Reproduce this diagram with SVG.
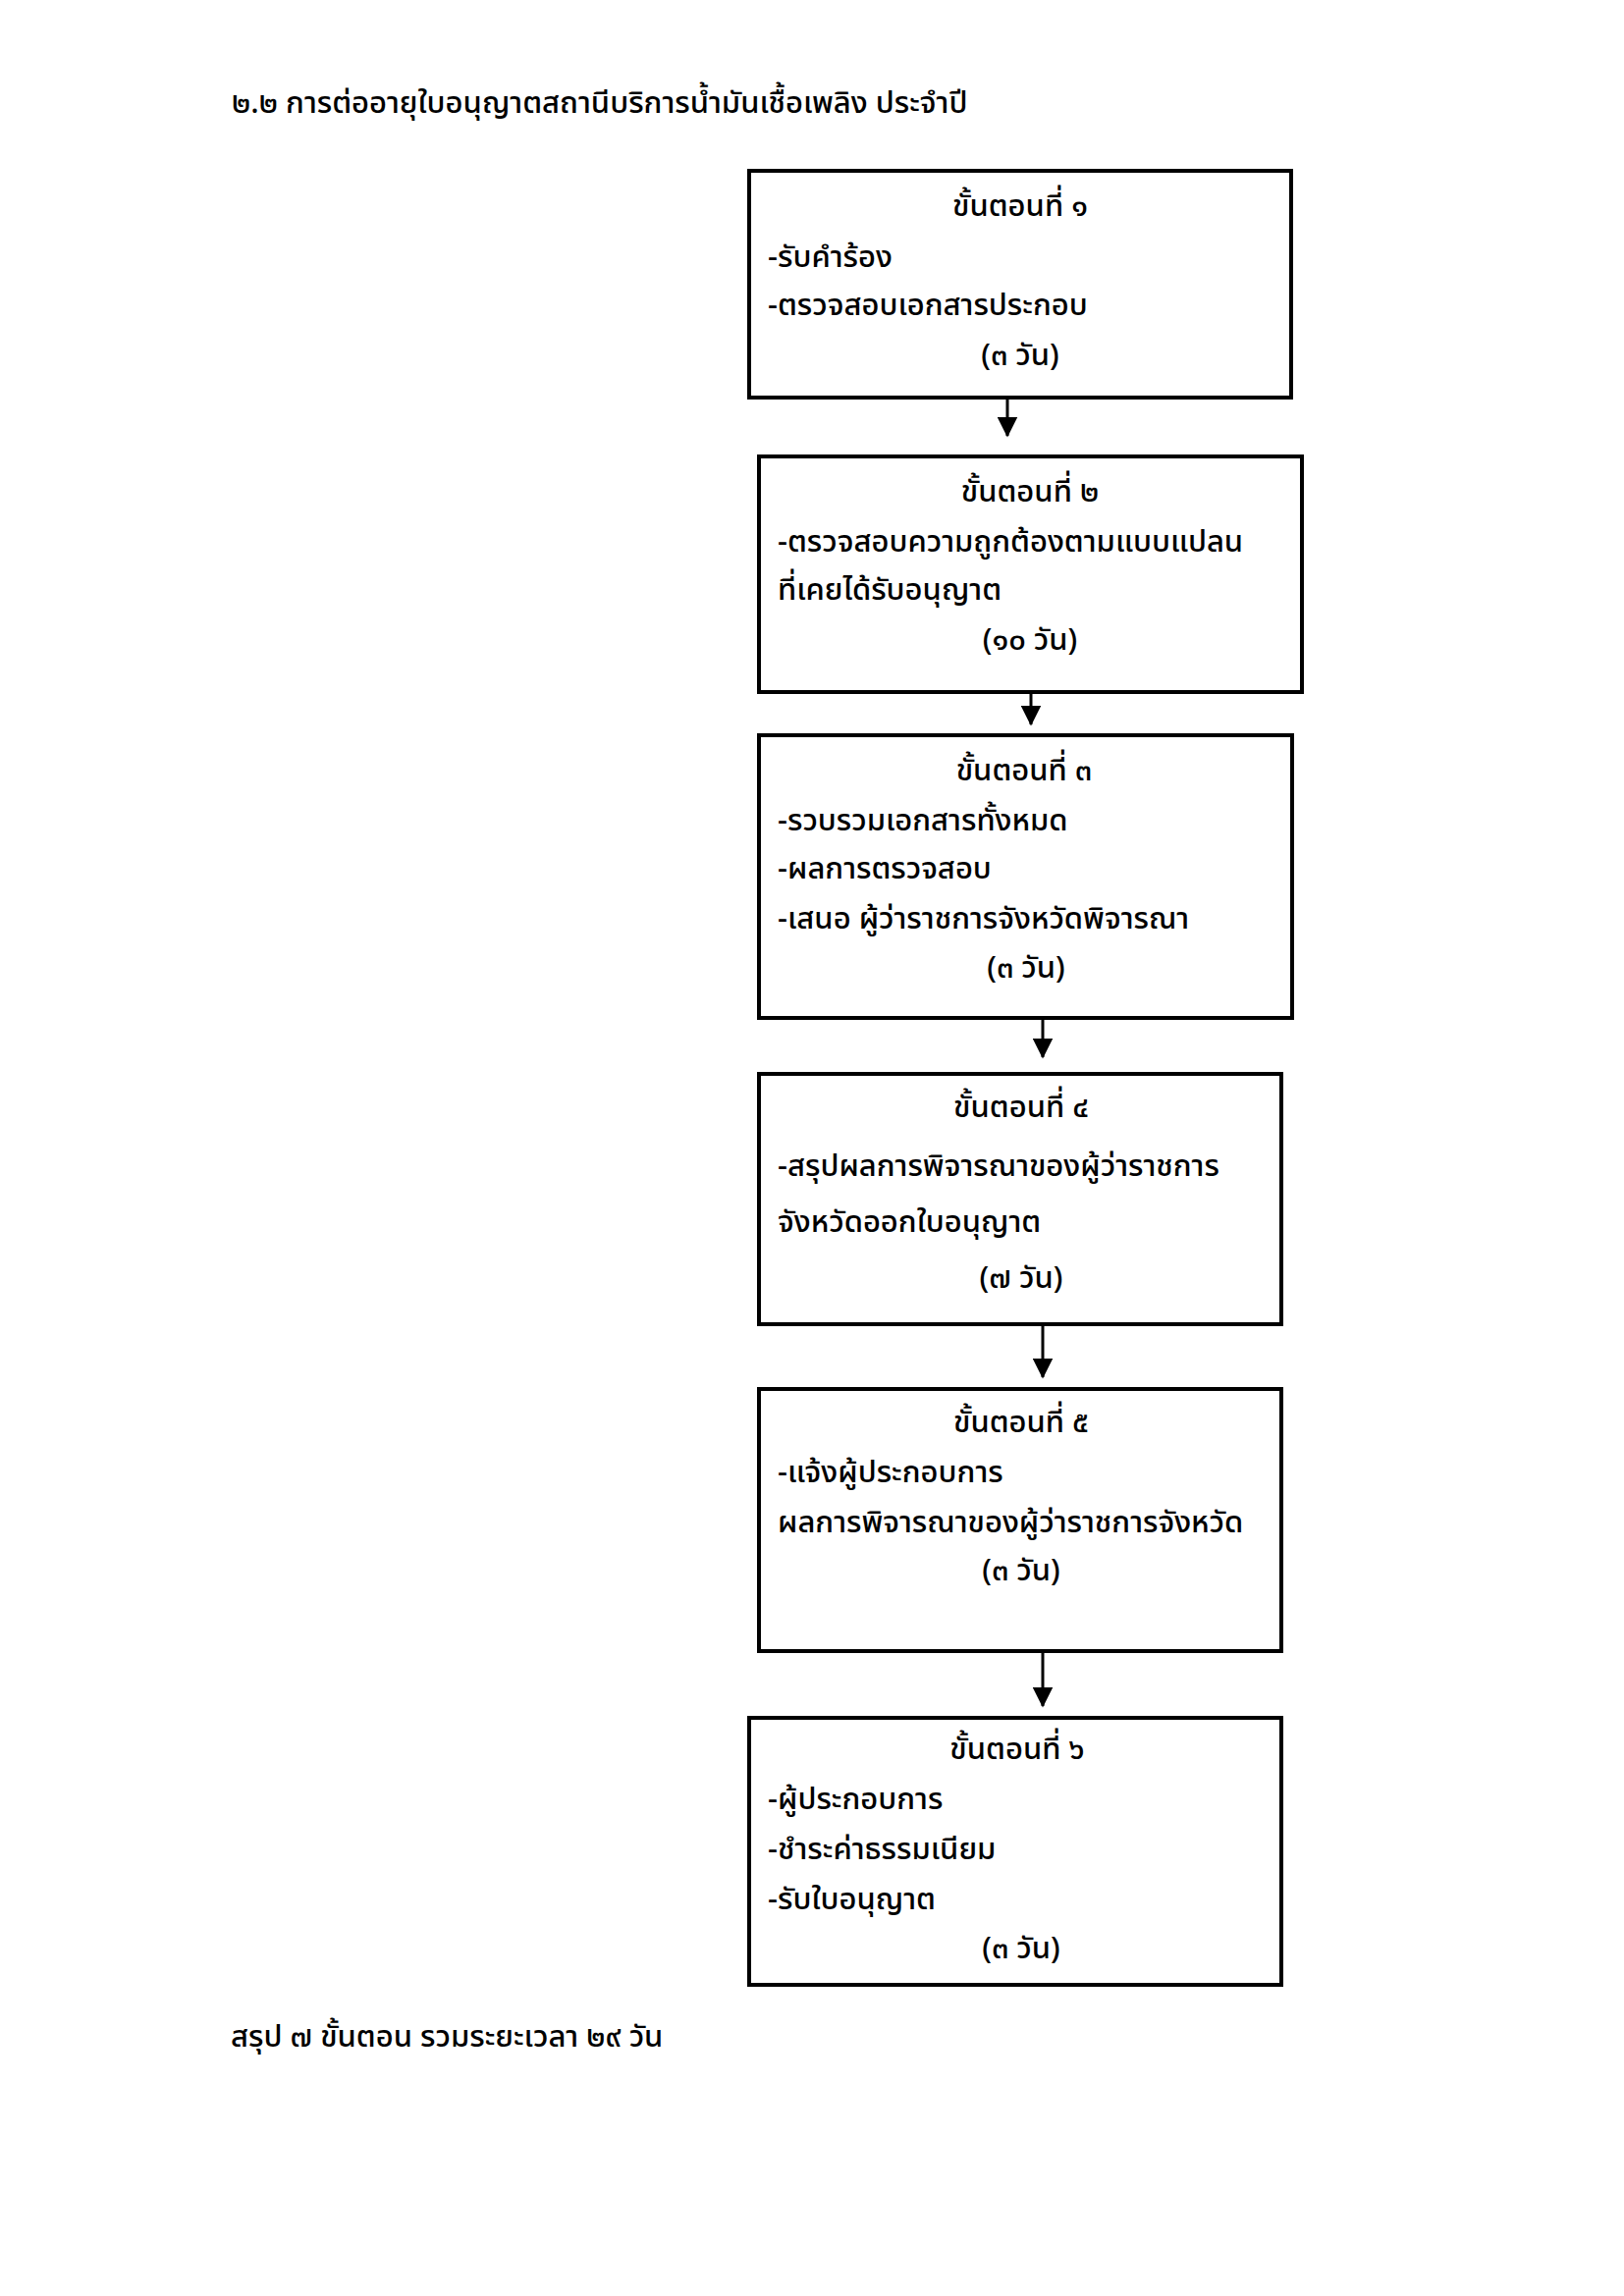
<svg xmlns="http://www.w3.org/2000/svg" width="1654" height="2339" viewBox="0 0 1654 2339">
<defs>
<style>
.bg{fill:#ffffff}
.box{fill:#ffffff;stroke:#000000;stroke-width:4}
.t{font-family:"Noto Sans Thai","Noto Sans","DejaVu Sans",sans-serif;font-size:31px;font-weight:500;fill:#000000}
.c{text-anchor:middle}
.edge{stroke:#000000;stroke-width:3;fill:none;marker-end:url(#ah)}
</style>
<marker id="ah" markerWidth="7" markerHeight="7" refX="6.5" refY="3.5" orient="auto" markerUnits="strokeWidth">
<path d="M0,0 L7,3.5 L0,7 Z" fill="#000000"/>
</marker>
</defs>
<rect class="bg" x="0" y="0" width="1654" height="2339"/>
<g id="title">
<text class="t" x="236" y="115">๒.๒ การต่ออายุใบอนุญาตสถานีบริการน้ำมันเชื้อเพลิง ประจำปี</text>
</g>
<g id="connectors">
<line class="edge" x1="1026" y1="407" x2="1026" y2="444"/>
<line class="edge" x1="1050" y1="707" x2="1050" y2="738"/>
<line class="edge" x1="1062" y1="1039" x2="1062" y2="1077"/>
<line class="edge" x1="1062" y1="1351" x2="1062" y2="1403"/>
<line class="edge" x1="1062" y1="1684" x2="1062" y2="1738"/>
</g>
<g id="step1">
<rect class="box" x="763" y="174" width="552" height="231"/>
<text class="t c" x="1039" y="220">ขั้นตอนที่ ๑</text>
<text class="t" x="782" y="272">-รับคำร้อง</text>
<text class="t" x="782" y="321">-ตรวจสอบเอกสารประกอบ</text>
<text class="t c" x="1039" y="372">(๓ วัน)</text>
</g>
<g id="step2">
<rect class="box" x="773" y="465" width="553" height="240"/>
<text class="t c" x="1049" y="511">ขั้นตอนที่ ๒</text>
<text class="t" x="792" y="562">-ตรวจสอบความถูกต้องตามแบบแปลน</text>
<text class="t" x="792" y="611">ที่เคยได้รับอนุญาต</text>
<text class="t c" x="1049" y="662">(๑๐ วัน)</text>
</g>
<g id="step3">
<rect class="box" x="773" y="749" width="543" height="288"/>
<text class="t c" x="1043" y="795">ขั้นตอนที่ ๓</text>
<text class="t" x="792" y="846">-รวบรวมเอกสารทั้งหมด</text>
<text class="t" x="792" y="895">-ผลการตรวจสอบ</text>
<text class="t" x="792" y="946">-เสนอ ผู้ว่าราชการจังหวัดพิจารณา</text>
<text class="t c" x="1045" y="996">(๓ วัน)</text>
</g>
<g id="step4">
<rect class="box" x="773" y="1094" width="532" height="255"/>
<text class="t c" x="1040" y="1138">ขั้นตอนที่ ๔</text>
<text class="t" x="792" y="1198">-สรุปผลการพิจารณาของผู้ว่าราชการ</text>
<text class="t" x="792" y="1255">จังหวัดออกใบอนุญาต</text>
<text class="t c" x="1040" y="1312">(๗ วัน)</text>
</g>
<g id="step5">
<rect class="box" x="773" y="1415" width="532" height="267"/>
<text class="t c" x="1040" y="1459">ขั้นตอนที่ ๕</text>
<text class="t" x="792" y="1510">-แจ้งผู้ประกอบการ</text>
<text class="t" x="792" y="1561">ผลการพิจารณาของผู้ว่าราชการจังหวัด</text>
<text class="t c" x="1040" y="1610">(๓ วัน)</text>
</g>
<g id="step6">
<rect class="box" x="763" y="1750" width="542" height="272"/>
<text class="t c" x="1036" y="1792">ขั้นตอนที่ ๖</text>
<text class="t" x="782" y="1843">-ผู้ประกอบการ</text>
<text class="t" x="782" y="1894">-ชำระค่าธรรมเนียม</text>
<text class="t" x="782" y="1945">-รับใบอนุญาต</text>
<text class="t c" x="1040" y="1995">(๓ วัน)</text>
</g>
<g id="summary">
<text class="t" x="235" y="2085">สรุป ๗ ขั้นตอน รวมระยะเวลา ๒๙ วัน</text>
</g>
</svg>
